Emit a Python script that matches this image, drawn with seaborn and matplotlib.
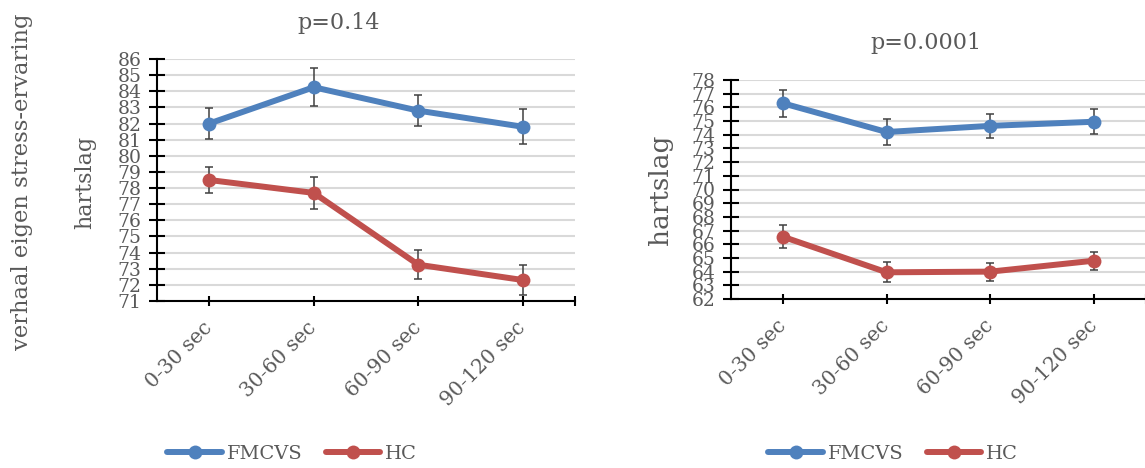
import matplotlib
matplotlib.use("Agg")
import matplotlib.pyplot as plt
from matplotlib.lines import Line2D
import seaborn as sns
import pandas as pd
import numpy as np

# ---- data ----
categories = ["0-30 sec", "30-60 sec", "60-90 sec", "90-120 sec"]
groups = ["FMCVS", "HC"]

left_fmcvs = [82.0, 84.25, 82.8, 81.8]
left_fmcvs_err = [0.95, 1.17, 0.98, 1.07]
left_hc = [78.5, 77.7, 73.25, 72.3]
left_hc_err = [0.83, 1.0, 0.9, 0.93]

right_fmcvs = [76.3, 74.2, 74.65, 74.95]
right_fmcvs_err = [0.97, 0.94, 0.89, 0.91]
right_hc = [66.55, 63.95, 64.0, 64.8]
right_hc_err = [0.84, 0.73, 0.65, 0.66]

left_title = "p=0.14"
right_title = "p=0.0001"
ylabel = "hartslag"
outer_label = "verhaal eigen stress-ervaring"
left_yticks = list(range(71, 87))
right_yticks = list(range(62, 79))

# ---- style ----
sns.set_style("white")
plt.rcParams["font.family"] = ["DejaVu Serif"]
TXT = "#595959"
palette = {"FMCVS": "#4F81BD", "HC": "#C0504D"}
GRID = "#D9D9D9"

W, H = 1145, 468
fig = plt.figure(figsize=(W / 100, H / 100), dpi=100)


def px_axes(x0, x1, ytop, ybot):
    return fig.add_axes([x0 / W, 1 - ybot / H, (x1 - x0) / W, (ybot - ytop) / H])


def draw(ax, fm, fm_err, hc, hc_err, yticks, title, title_xy, ylab_xy, ylab_size):
    df = pd.DataFrame({
        "interval": categories * 2,
        "hartslag": fm + hc,
        "groep": ["FMCVS"] * len(categories) + ["HC"] * len(categories),
    })
    # error bars first (below the markers)
    for vals, errs, g in [(fm, fm_err, "FMCVS"), (hc, hc_err, "HC")]:
        ax.errorbar(np.arange(len(categories)), vals, yerr=errs, fmt="none",
                    ecolor="#404040", elinewidth=1.1, capsize=3.2, capthick=1.1,
                    zorder=2)
    sns.lineplot(data=df, x="interval", y="hartslag", hue="groep",
                 palette=palette, marker="o", markersize=10, linewidth=4.3,
                 markeredgewidth=0, ax=ax, legend=False, zorder=3,
                 sort=False)
    ax.set_xlim(-0.5, 3.5)
    ax.set_ylim(yticks[0], yticks[-1])
    ax.set_yticks(yticks)
    ax.set_yticklabels([str(t) for t in yticks])
    ax.set_xticks([0, 1, 2, 3, 3.5])
    ax.set_xticklabels(categories + [""], rotation=45, ha="right",
                       rotation_mode="anchor", va="center")
    ax.set_xlabel("")
    ax.grid(axis="y", color=GRID, linewidth=1.5, zorder=0)
    ax.grid(axis="x", visible=False)
    ax.set_axisbelow(True)
    for s in ["top", "right"]:
        ax.spines[s].set_visible(False)
    for s in ["left", "bottom"]:
        ax.spines[s].set_color("black")
        ax.spines[s].set_linewidth(1.5)
    ax.tick_params(axis="y", direction="inout", length=11, width=1.5,
                   color="black", labelsize=13.5, labelcolor=TXT, pad=5.5,
                   left=True)
    ax.tick_params(axis="x", direction="inout", length=6.5, width=1.5,
                   color="black", labelsize=14.5, labelcolor=TXT, pad=14,
                   bottom=True)
    ax.set_ylabel(ylabel, fontsize=ylab_size, color=TXT)
    ax.yaxis.set_label_coords(*ylab_xy)
    ax.yaxis.label.set_va("center")
    ax.text(title_xy[0], title_xy[1], title, transform=ax.transAxes,
            ha="center", va="center", fontsize=16, color=TXT)


# left panel
axL = px_axes(157, 575, 59, 301)
draw(axL, left_fmcvs, left_fmcvs_err, left_hc, left_hc_err, left_yticks,
     left_title, ((339 - 157) / 418, (301 - 23) / 242),
     ((85 - 157) / 418, (301 - 182) / 242), 16)

# right panel
axR = px_axes(731, 1146, 80, 299)
draw(axR, right_fmcvs, right_fmcvs_err, right_hc, right_hc_err, right_yticks,
     right_title, ((926 - 731) / 415, (299 - 43) / 219),
     ((661 - 731) / 415, (299 - 190) / 219), 19)

fig.text(22 / W, 1 - 182 / H, outer_label, rotation=90, ha="center",
         va="center", fontsize=16.3, color=TXT)

# legends
handles = [Line2D([0], [0], color=palette[g], linewidth=4.3, marker="o",
                  markersize=10, markeredgewidth=0) for g in groups]
for ax, cx in [(axL, 292), (axR, 893)]:
    leg = ax.legend(handles, groups, loc="center", ncol=2, frameon=False,
                    bbox_to_anchor=(cx / W, 1 - 454 / H),
                    bbox_transform=fig.transFigure, fontsize=14,
                    handlelength=2.8, handletextpad=0.25, columnspacing=1.2)
    for t in leg.get_texts():
        t.set_color(TXT)

fig.savefig("out.png", dpi=100)
